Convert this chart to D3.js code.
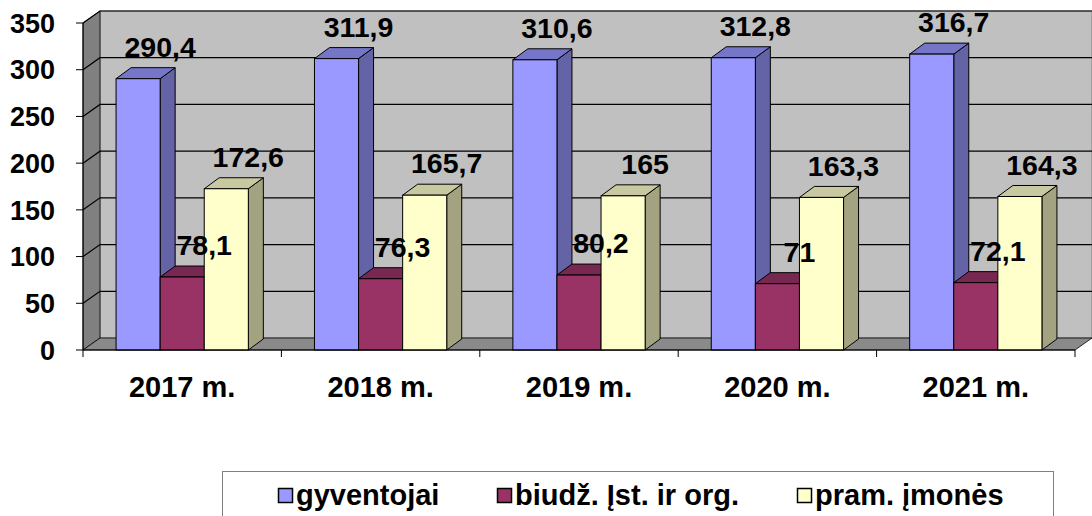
<!DOCTYPE html>
<html>
<head>
<meta charset="utf-8">
<script src="https://cdn.jsdelivr.net/npm/d3@7"></script>
<style>
  html, body { margin: 0; padding: 0; background: #fff; }
  svg { display: block; }
  text { font-family: "Liberation Sans", Arial, sans-serif; font-weight: bold; fill: #000; }
</style>
</head>
<body>
<svg id="chart" width="1092" height="516"></svg>
<script>
const categories = ["2017 m.", "2018 m.", "2019 m.", "2020 m.", "2021 m."];
const seriesNames = ["gyventojai", "biudž. Įst. ir org.", "pram. įmonės"];
const gyventojai = [290.4, 311.9, 310.6, 312.8, 316.7];
const biudz = [78.1, 76.3, 80.2, 71, 72.1];
const pram = [172.6, 165.7, 165, 163.3, 164.3];
const yTicks = [0, 50, 100, 150, 200, 250, 300, 350];

const seriesValues = [gyventojai, biudz, pram];
const colors = [
  { front: "#9999FF", top: "#7676C8", side: "#6363A6" },
  { front: "#993366", top: "#772851", side: "#66223F" },
  { front: "#FFFFCC", top: "#C9C9A1", side: "#A3A382" }
];

const svg = d3.select("#chart");
const X0 = 83, X1 = 1075, Y0 = 350, YT = 23;
const WDX = 17, WDY = -12;   // wall depth
const BDX = 15, BDY = -11;   // bar depth

const y = d3.scaleLinear().domain([0, 350]).range([Y0, YT]);
const x = d3.scaleBand().domain(categories).range([X0, X1]).padding(0);
const bw = x.bandwidth() / 4.5;
const xs = d3.scaleBand().domain(d3.range(3)).range([bw * 0.75, x.bandwidth() - bw * 0.75]).padding(0);

const fmt = v => String(v).replace(".", ",");

// Back wall
svg.append("rect")
  .attr("x", X0 + WDX).attr("y", YT + WDY)
  .attr("width", X1 - X0).attr("height", Y0 - YT)
  .attr("fill", "#C0C0C0").attr("stroke", "#808080").attr("stroke-width", 1);
// Left wall
svg.append("polygon")
  .attr("points", [[X0, YT], [X0 + WDX, YT + WDY], [X0 + WDX, Y0 + WDY], [X0, Y0]].join(" "))
  .attr("fill", "#808080").attr("stroke", "#000").attr("stroke-width", 0.8);
// Floor
svg.append("polygon")
  .attr("points", [[X0, Y0], [X0 + WDX, Y0 + WDY], [X1 + WDX, Y0 + WDY], [X1, Y0]].join(" "))
  .attr("fill", "#8A8A8A").attr("stroke", "#000").attr("stroke-width", 0.8);

// Gridlines
const grid = svg.append("g");
yTicks.filter(t => t > 0).forEach(t => {
  grid.append("path")
    .attr("d", `M${X0},${y(t)}L${X0 + WDX},${y(t) + WDY}L${X1 + WDX},${y(t) + WDY}`)
    .attr("fill", "none").attr("stroke", "#000").attr("stroke-width", 1.2);
});

// Bars
const bars = svg.append("g");
categories.forEach((c, ci) => {
  seriesValues.forEach((vals, si) => {
    const v = vals[ci];
    const l = x(c) + xs(si), r = l + bw, t = y(v), b = y(0);
    const col = colors[si];
    bars.append("polygon")
      .attr("points", [[r, b], [r + BDX, b + BDY], [r + BDX, t + BDY], [r, t]].join(" "))
      .attr("fill", col.side).attr("stroke", "#000").attr("stroke-width", 1);
    bars.append("polygon")
      .attr("points", [[l, t], [l + BDX, t + BDY], [r + BDX, t + BDY], [r, t]].join(" "))
      .attr("fill", col.top).attr("stroke", "#000").attr("stroke-width", 1);
    bars.append("rect")
      .attr("x", l).attr("y", t).attr("width", bw).attr("height", b - t)
      .attr("fill", col.front).attr("stroke", "#000").attr("stroke-width", 1);
  });
});

// Axes
const ax = svg.append("g");
ax.append("line").attr("x1", X0).attr("x2", X0).attr("y1", YT).attr("y2", Y0).attr("stroke", "#000");
ax.append("line").attr("x1", X0).attr("x2", X1).attr("y1", Y0).attr("y2", Y0).attr("stroke", "#000");
yTicks.forEach(t => {
  ax.append("line").attr("x1", X0 - 7).attr("x2", X0).attr("y1", y(t)).attr("y2", y(t)).attr("stroke", "#000");
  ax.append("text").attr("x", 55).attr("y", y(t)).attr("dy", "0.36em")
    .attr("text-anchor", "end").attr("font-size", 27).text(t);
});
categories.concat([null]).forEach((c, i) => {
  const xx = X0 + i * x.bandwidth();
  ax.append("line").attr("x1", xx).attr("x2", xx).attr("y1", Y0).attr("y2", Y0 + 7).attr("stroke", "#000");
});
categories.forEach(c => {
  ax.append("text").attr("x", x(c) + x.bandwidth() / 2).attr("y", 397)
    .attr("text-anchor", "middle").attr("font-size", 29).text(c);
});

// Data labels
const lab = svg.append("g");
categories.forEach((c, ci) => {
  seriesValues.forEach((vals, si) => {
    const v = vals[ci];
    const l = x(c) + xs(si);
    lab.append("text")
      .attr("x", l + bw / 2 + 22).attr("y", y(v) - 32).attr("dy", "0.36em")
      .attr("text-anchor", "middle").attr("font-size", 28.5).text(fmt(v));
  });
});

// Legend
const lg = svg.append("g");
lg.append("rect").attr("x", 222.5).attr("y", 471.5).attr("width", 831).attr("height", 60)
  .attr("fill", "#fff").attr("stroke", "#808080");
const legendX = [278, 497, 797];
seriesNames.forEach((n, i) => {
  lg.append("rect").attr("x", legendX[i] + 0.5).attr("y", 488.5).attr("width", 14).attr("height", 14)
    .attr("fill", colors[i].front).attr("stroke", "#000").attr("stroke-width", 1.5);
  lg.append("text").attr("x", legendX[i] + 18).attr("y", 505).attr("font-size", 29).text(n);
});
</script>
</body>
</html>
